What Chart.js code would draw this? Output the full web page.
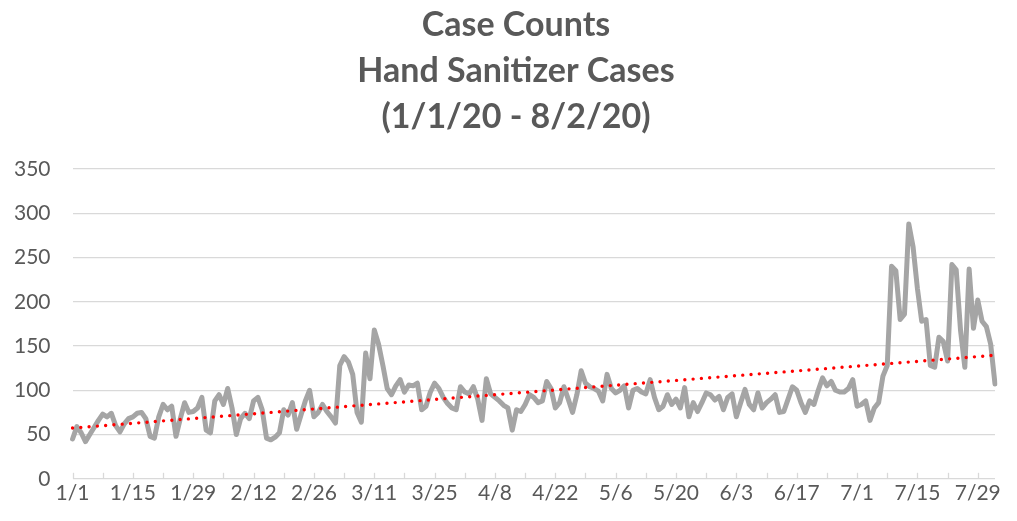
<!DOCTYPE html>
<html lang="en">
<head>
<meta charset="UTF-8">
<title>Case Counts - Hand Sanitizer Cases</title>
<script src="https://cdn.jsdelivr.net/npm/chart.js@4"></script>
<style>
  html, body { margin: 0; padding: 0; background: #fff; }
  .wrap { width: 1017px; height: 521px; }
</style>
</head>
<body>
<div class="wrap"><canvas id="caseChart"></canvas></div>
<script>
// daily case counts, 1/1/20 .. 8/2/20
const cases = [
  45, 59, 52, 42, 50, 58, 66, 73, 70, 74,
  60, 53, 62, 68, 70, 74, 75, 68, 48, 46,
  70, 84, 78, 82, 48, 68, 86, 75, 76, 80,
  92, 55, 52, 88, 95, 84, 102, 80, 50, 68,
  74, 68, 88, 92, 78, 46, 44, 47, 52, 78,
  72, 86, 56, 72, 88, 100, 70, 75, 84, 76,
  70, 63, 128, 138, 132, 118, 75, 64, 142, 113,
  168, 152, 128, 102, 95, 105, 112, 98, 106, 105,
  108, 78, 82, 98, 108, 102, 92, 85, 80, 78,
  104, 98, 96, 104, 90, 66, 113, 96, 92, 88,
  83, 80, 55, 78, 76, 84, 95, 92, 86, 88,
  110, 102, 80, 86, 104, 90, 75, 95, 122, 108,
  104, 102, 99, 88, 118, 102, 97, 100, 105, 80,
  100, 102, 98, 96, 112, 92, 78, 82, 95, 84,
  90, 80, 103, 70, 86, 76, 86, 97, 95, 89,
  93, 78, 92, 96, 70, 86, 101, 84, 78, 97,
  80, 86, 90, 95, 75, 76, 90, 104, 100, 86,
  75, 88, 84, 100, 114, 105, 110, 100, 98, 98,
  102, 112, 82, 84, 88, 66, 80, 86, 116, 128,
  240, 235, 180, 186, 288, 262, 215, 178, 180, 128,
  126, 160, 155, 133, 242, 236, 168, 126, 237, 170,
  202, 178, 172, 152, 107
];

// labels shown under the axis (every two weeks)
const tickLabels = ['1/1', '1/15', '1/29', '2/12', '2/26', '3/11', '3/25', '4/8',
  '4/22', '5/6', '5/20', '6/3', '6/17', '7/1', '7/15', '7/29'];

const yTicks = [0, 50, 100, 150, 200, 250, 300, 350];

const titleLines = ['Case Counts', 'Hand Sanitizer Cases', '(1/1/20 - 8/2/20)'];

// one category per day
const dates = cases.map((_, i) => {
  const d = new Date(2020, 0, 1 + i);
  return (d.getMonth() + 1) + '/' + d.getDate();
});

// linear trendline (least squares), like the Excel one
const n = cases.length;
let sx = 0, sy = 0, sxy = 0, sxx = 0;
cases.forEach((v, i) => { sx += i; sy += v; sxy += i * v; sxx += i * i; });
const slope = (n * sxy - sx * sy) / (n * sxx - sx * sx);
const intercept = (sy - slope * sx) / n;
const trend = cases.map((_, i) => intercept + slope * i);

// small inside tick marks every 7 days on the x axis
const weekTicks = {
  id: 'weekTicks',
  beforeDatasetsDraw(chart) {
    const { ctx, chartArea, scales } = chart;
    ctx.save();
    ctx.strokeStyle = '#d9d9d9';
    ctx.lineWidth = 1.3;
    for (let i = 0; i < n; i += 7) {
      const x = Math.round(scales.x.getPixelForValue(i)) + 0.5;
      ctx.beginPath();
      ctx.moveTo(x, chartArea.bottom);
      ctx.lineTo(x, chartArea.bottom - 6);
      ctx.stroke();
    }
    ctx.restore();
  }
};

// three-line title, centred a little right of the canvas middle like the original
const titleBlock = {
  id: 'titleBlock',
  afterDraw(chart) {
    const { ctx } = chart;
    ctx.save();
    ctx.fillStyle = '#595959';
    ctx.font = 'bold 34px Lato, "Open Sans", sans-serif';
    ctx.textAlign = 'center';
    ctx.textBaseline = 'middle';
    titleLines.forEach((line, i) => ctx.fillText(line, 516, 25 + i * 46));
    ctx.restore();
  }
};

Chart.defaults.font.family = 'Lato, "Open Sans", sans-serif';
Chart.defaults.color = '#595959';

new Chart(document.getElementById('caseChart'), {
  type: 'line',
  data: {
    labels: dates,
    datasets: [
      {
        label: 'Linear trend',
        data: trend,
        borderColor: '#ff0000',
        borderWidth: 3.4,
        borderDash: [0, 8.3],
        borderCapStyle: 'round',
        pointRadius: 0,
        tension: 0,
        order: 1
      },
      {
        label: 'Cases',
        data: cases,
        borderColor: '#a5a5a5',
        borderWidth: 5,
        borderJoinStyle: 'round',
        borderCapStyle: 'round',
        pointRadius: 0,
        tension: 0,
        order: 2
      }
    ]
  },
  options: {
    responsive: true,
    maintainAspectRatio: false,
    animation: false,
    layout: { padding: { left: -8, right: 22, top: 169, bottom: 13 } },
    plugins: {
      legend: { display: false },
      tooltip: { enabled: false },
      title: { display: false }
    },
    scales: {
      x: {
        offset: false,
        grid: { display: false, drawTicks: false, tickLength: 0 },
        border: { display: false },
        ticks: {
          autoSkip: false,
          maxRotation: 0,
          minRotation: 0,
          padding: 2,
          font: { size: 21 },
          color: '#595959',
          callback(value) {
            const lab = this.getLabelForValue(value);
            return tickLabels.includes(lab) ? lab : '';
          }
        }
      },
      y: {
        min: 0,
        max: 350,
        afterBuildTicks(axis) { axis.ticks = yTicks.map(v => ({ value: v })); },
        grid: { color: '#d9d9d9', lineWidth: 1.3, drawTicks: false },
        border: { display: false },
        ticks: { padding: 22, font: { size: 21 }, color: '#595959' }
      }
    }
  },
  plugins: [weekTicks, titleBlock]
});
</script>
</body>
</html>
